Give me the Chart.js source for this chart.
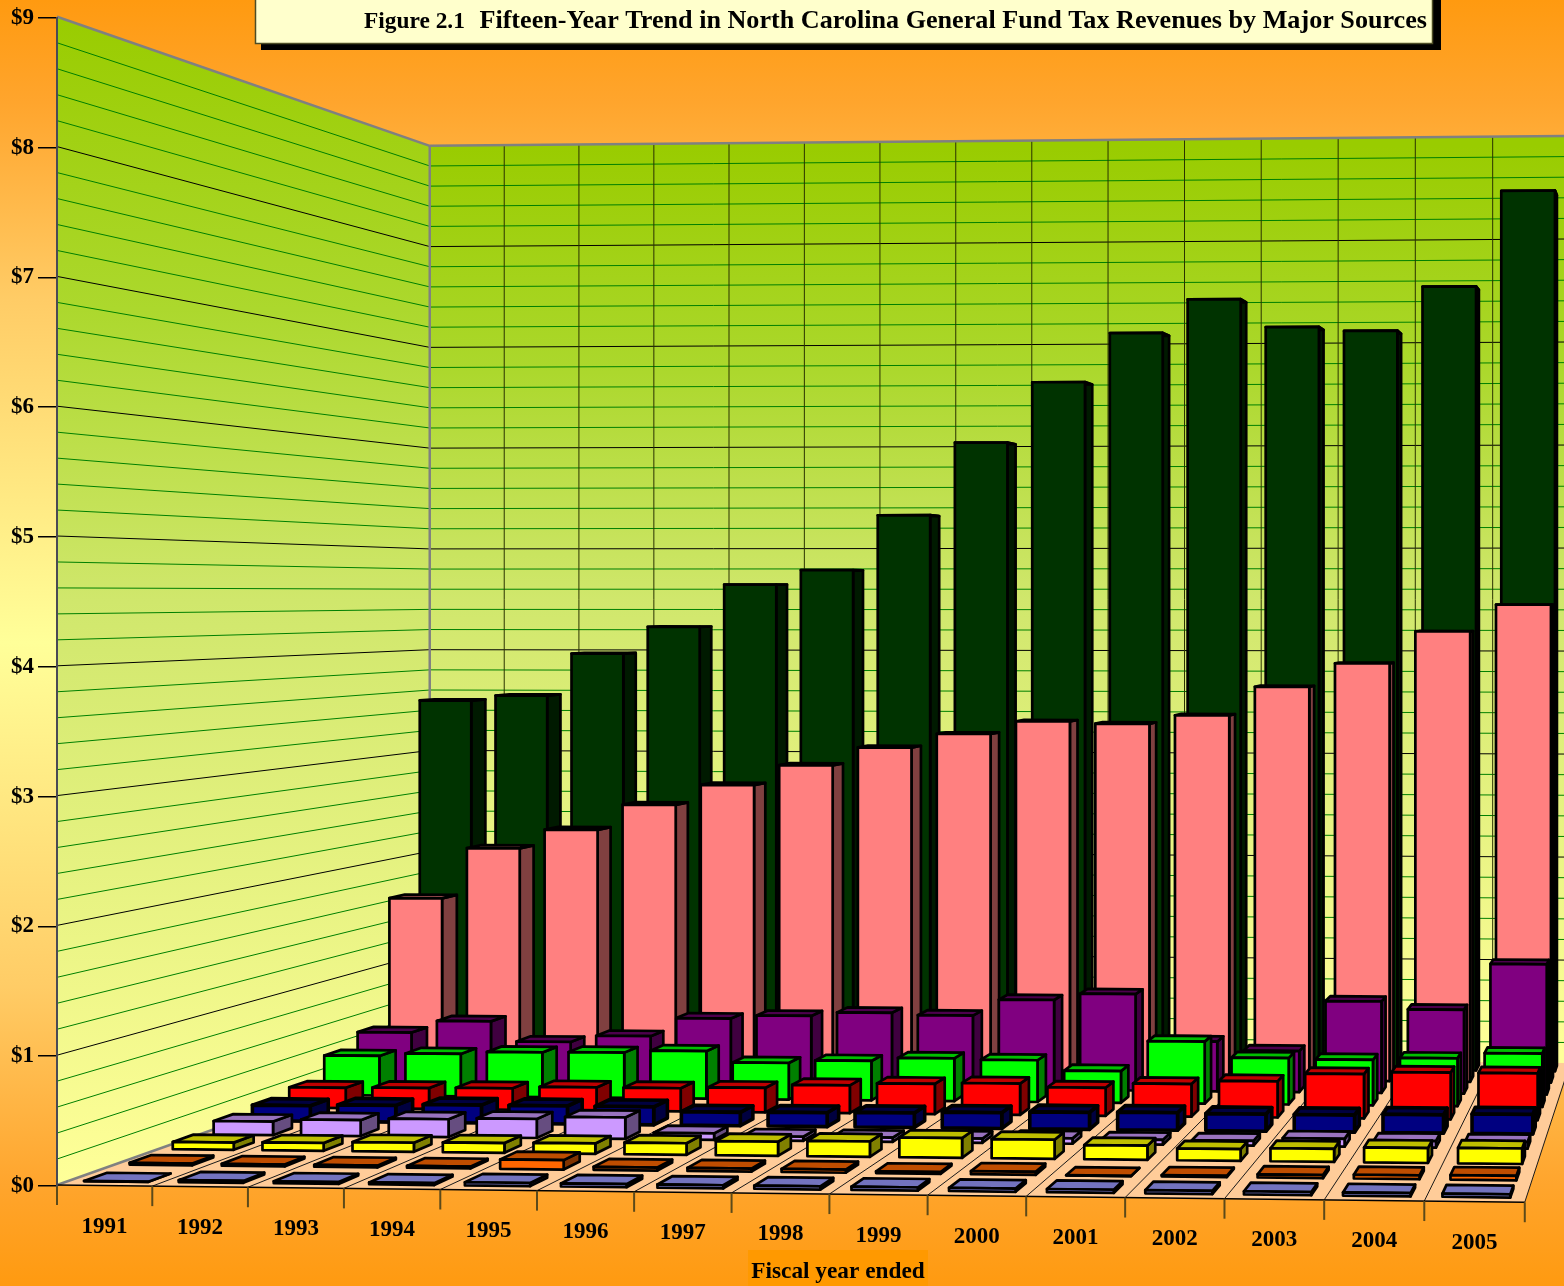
<!DOCTYPE html>
<html>
<head>
<meta charset="utf-8">
<title>Figure 2.1</title>
<script src="https://cdn.jsdelivr.net/npm/chart.js@4/dist/chart.umd.js"></script>
<style>
  html, body { margin: 0; padding: 0; background: #ff9900; }
  canvas { display: block; }
</style>
</head>
<body>
<canvas id="revenueChart" width="1564" height="1286"></canvas>
<script>
// Data, in billions of dollars. Front row first.
const years = ["1991", "1992", "1993", "1994", "1995", "1996", "1997", "1998", "1999", "2000", "2001", "2002", "2003", "2004", "2005"];

const periwinkleValues = [0.005, 0.02, 0.02, 0.02, 0.03, 0.03, 0.03, 0.03, 0.03, 0.03, 0.03, 0.03, 0.03, 0.03, 0.03];
const orangeValues = [0.02, 0.02, 0.02, 0.02, 0.08, 0.03, 0.03, 0.03, 0.02, 0.03, 0.005, 0.015, 0.03, 0.035, 0.04];
const yellowValues = [0.065, 0.07, 0.08, 0.085, 0.09, 0.10, 0.12, 0.13, 0.165, 0.16, 0.12, 0.10, 0.11, 0.125, 0.13];
const lavenderValues = [0.12, 0.14, 0.155, 0.165, 0.185, 0.06, 0.04, 0.04, 0.04, 0.05, 0.045, 0.045, 0.07, 0.06, 0.06];
const navyValues = [0.14, 0.15, 0.16, 0.16, 0.16, 0.12, 0.125, 0.13, 0.14, 0.15, 0.155, 0.15, 0.15, 0.16, 0.17];
const redValues = [0.185, 0.19, 0.195, 0.21, 0.21, 0.22, 0.25, 0.27, 0.28, 0.25, 0.29, 0.32, 0.39, 0.41, 0.41];
const greenValues = [0.365, 0.39, 0.41, 0.415, 0.435, 0.335, 0.36, 0.39, 0.38, 0.29, 0.56, 0.42, 0.41, 0.43, 0.48];
const purpleValues = [0.48, 0.59, 0.405, 0.465, 0.635, 0.665, 0.70, 0.68, 0.83, 0.89, 0.46, 0.38, 0.84, 0.77, 1.19];
const pinkValues = [1.66, 2.14, 2.32, 2.56, 2.75, 2.94, 3.11, 3.24, 3.36, 3.34, 3.42, 3.69, 3.91, 4.21, 4.46];
const darkGreenValues = [3.52, 3.57, 3.98, 4.24, 4.65, 4.79, 5.32, 6.02, 6.60, 7.07, 7.39, 7.12, 7.08, 7.50, 8.41];

const rows = [
  { label: "Periwinkle", data: periwinkleValues, color: [153, 153, 255], topShade: 0.75, edge: 2.7 },
  { label: "Orange", data: orangeValues, color: [255, 102, 0], topShade: 0.75, edge: 2.7 },
  { label: "Yellow", data: yellowValues, color: [255, 255, 0], topShade: 0.75, edge: 2.7 },
  { label: "Lavender", data: lavenderValues, color: [204, 153, 255], topShade: 0.75, edge: 2.7 },
  { label: "Navy", data: navyValues, color: [0, 0, 128], topShade: 0.5, edge: 3.6 },
  { label: "Red", data: redValues, color: [255, 0, 0], topShade: 0.75, edge: 2.7 },
  { label: "Green", data: greenValues, color: [0, 255, 0], topShade: 0.75, edge: 2.7 },
  { label: "Purple", data: purpleValues, color: [128, 0, 128], topShade: 0.6, edge: 2.7 },
  { label: "Pink", data: pinkValues, color: [255, 128, 128], topShade: 0.75, edge: 2.7 },
  { label: "Dark green", data: darkGreenValues, color: [0, 51, 0], topShade: 0.6, edge: 2.7 },
];

const titleFigure = "Figure 2.1";
const titleText = "Fifteen-Year Trend in North Carolina General Fund Tax Revenues by Major Sources";
const axisTitle = "Fiscal year ended";
const serif = '"Liberation Serif", "Times New Roman", serif';

// Perspective camera: u counts years along the front, v runs 0..1 front to back,
// h is a height in pixels as given by the y scale on the front plane.
const cam = { x0: 57, xu: 95, xv: 496.5, y0: 1185, yu: -1.1, yv: 171, du: -0.00187, dv: 0.288 };

function project(u, v, h) {
  const d = 1 + cam.du * u + cam.dv * v;
  return [(cam.x0 + cam.xu * u + cam.xv * v) / d, (cam.y0 + cam.yu * u + cam.yv * v - h) / d];
}

const rowDepth = 0.1;
const barDepth = 0.05;

function poly(ctx, pts) {
  ctx.beginPath();
  pts.forEach((p, i) => (i ? ctx.lineTo(p[0], p[1]) : ctx.moveTo(p[0], p[1])));
  ctx.closePath();
}

function line(ctx, a, b, color, width) {
  ctx.strokeStyle = color;
  ctx.lineWidth = width;
  ctx.beginPath();
  ctx.moveTo(a[0], a[1]);
  ctx.lineTo(b[0], b[1]);
  ctx.stroke();
}

function shade(c, k) {
  return "rgb(" + c.map((n) => Math.round(n * k)).join(",") + ")";
}

function heightOf(chart, value) {
  const y = chart.scales.y;
  return y.getPixelForValue(0) - y.getPixelForValue(value);
}

function wallGradient(ctx, top, bottom) {
  const g = ctx.createLinearGradient(0, top, 0, bottom);
  g.addColorStop(0, "#99cc00");
  g.addColorStop(0.25, "#acd82d");
  g.addColorStop(0.5, "#d0e76c");
  g.addColorStop(1, "#ffff99");
  return g;
}

const stagePlugin = {
  id: "stage",
  // page, walls and floor go under the library's axis
  beforeDraw(chart) {
    const ctx = chart.ctx;
    const full = heightOf(chart, 9);
    const maxU = years.length;

    const bg = ctx.createLinearGradient(0, 0, 0, chart.height);
    bg.addColorStop(0, "#ff9a10");
    bg.addColorStop(0.08, "#ffa52d");
    bg.addColorStop(0.233, "#ffcc66");
    bg.addColorStop(0.5, "#ffff99");
    bg.addColorStop(0.767, "#ffcc66");
    bg.addColorStop(0.92, "#ffa52d");
    bg.addColorStop(1, "#ff9a10");
    ctx.fillStyle = bg;
    ctx.fillRect(0, 0, chart.width, chart.height);

    // floor
    poly(ctx, [project(0, 0, 0), project(maxU, 0, 0), project(maxU, 1, 0), project(0, 1, 0)]);
    ctx.fillStyle = "#ffcc99";
    ctx.fill();

    // left wall
    poly(ctx, [project(0, 0, 0), project(0, 0, full), project(0, 1, full), project(0, 1, 0)]);
    ctx.fillStyle = wallGradient(ctx, project(0, 0, full)[1], project(0, 0, 0)[1]);
    ctx.fill();

    // back wall
    poly(ctx, [project(0, 1, 0), project(0, 1, full), project(maxU, 1, full), project(maxU, 1, 0)]);
    ctx.fillStyle = wallGradient(ctx, project(0, 1, full)[1], project(0, 1, 0)[1]);
    ctx.fill();

    // horizontal grid, five divisions per dollar
    for (let i = 1; i < 45; i++) {
      const h = heightOf(chart, i / 5);
      const color = i % 5 === 0 ? "#000000" : "#008000";
      line(ctx, project(0, 0, h), project(0, 1, h), color, 1);
      line(ctx, project(0, 1, h), project(maxU, 1, h), color, 1);
    }
    // year lines on the back wall and the floor
    for (let u = 1; u < maxU; u++) {
      line(ctx, project(u, 1, 0), project(u, 1, full), "#2a3300", 1);
    }
    for (let u = 1; u <= maxU; u++) {
      line(ctx, project(u, 0, 0), project(u, 1, 0), "#1a1a1a", 1);
    }

    // wall edges
    line(ctx, project(0, 0, full), project(0, 1, full), "#808080", 2.5);
    line(ctx, project(0, 1, full), project(maxU, 1, full), "#808080", 2.5);
    line(ctx, project(0, 1, 0), project(0, 1, full), "#808080", 2.5);
    line(ctx, project(0, 0, 0), project(0, 1, 0), "#808080", 2.5);

    // front edge with the year ticks
    line(ctx, project(0, 0, 0), project(maxU, 0, 0), "#000000", 1.5);
    for (let u = 0; u <= maxU; u++) {
      const p = project(u, 0, 0);
      line(ctx, p, [p[0], p[1] + 20], "#5c4a1a", 2);
    }
  },

  // draw each bar as a box instead of the flat rectangle
  beforeDatasetDraw(chart, args) {
    const ctx = chart.ctx;
    const xs = chart.scales.x;
    const slot = xs.width / years.length;
    const row = args.index;
    const color = rows[row].color;
    const v0 = row * rowDepth + (rowDepth - barDepth) / 2;
    const v1 = v0 + barDepth;

    ctx.save();
    ctx.lineJoin = "round";
    ctx.strokeStyle = "#000000";
    ctx.lineWidth = rows[row].edge;
    args.meta.data.forEach((bar) => {
      const props = bar.getProps(["x", "y", "base", "width"], true);
      const u0 = (props.x - props.width / 2 - xs.left) / slot;
      const u1 = (props.x + props.width / 2 - xs.left) / slot;
      const h = props.base - props.y;

      poly(ctx, [project(u1, v0, 0), project(u1, v1, 0), project(u1, v1, h), project(u1, v0, h)]);
      ctx.fillStyle = shade(color, 0.5);
      ctx.fill();
      ctx.stroke();

      poly(ctx, [project(u0, v0, h), project(u1, v0, h), project(u1, v1, h), project(u0, v1, h)]);
      ctx.fillStyle = shade(color, rows[row].topShade);
      ctx.fill();
      ctx.stroke();

      poly(ctx, [project(u0, v0, 0), project(u1, v0, 0), project(u1, v0, h), project(u0, v0, h)]);
      ctx.fillStyle = shade(color, 1);
      ctx.fill();
      ctx.stroke();
    });
    ctx.restore();
    return false;
  },

  afterDraw(chart) {
    const ctx = chart.ctx;
    const xs = chart.scales.x;
    const slot = xs.width / years.length;

    ctx.save();
    ctx.textBaseline = "alphabetic";

    // year labels follow the tilted front edge
    ctx.font = "bold 23px " + serif;
    ctx.textAlign = "center";
    ctx.fillStyle = "#000000";
    years.forEach((year, i) => {
      const u = (xs.getPixelForTick(i) - xs.left) / slot;
      const p = project(u, 0, 0);
      ctx.fillText(year, p[0], p[1] + 47);
    });

    // axis title on its own patch
    ctx.fillStyle = "#ff9900";
    ctx.fillRect(748, 1250, 180, 36);
    ctx.fillStyle = "#000000";
    ctx.font = "bold 23.3px " + serif;
    ctx.fillText(axisTitle, 838, 1278);

    // title box
    ctx.fillStyle = "#000000";
    ctx.fillRect(261, 0, 1180, 50);
    ctx.fillStyle = "#ffffcc";
    ctx.fillRect(255, -2, 1178, 46);
    ctx.strokeStyle = "#4d4d26";
    ctx.lineWidth = 1.5;
    ctx.strokeRect(255.5, -2, 1177, 45.5);

    ctx.fillStyle = "#000000";
    ctx.textAlign = "left";
    ctx.font = "bold 23.4px " + serif;
    ctx.fillText(titleFigure, 364, 28);
    ctx.textAlign = "right";
    ctx.font = "bold 26.15px " + serif;
    ctx.fillText(titleText, 1427, 28);
    ctx.restore();
  },
};

const revenueChart = new Chart(document.getElementById("revenueChart"), {
  type: "bar",
  data: {
    labels: years,
    datasets: rows.map((r) => ({ label: r.label, data: r.data })),
  },
  options: {
    responsive: false,
    animation: false,
    grouped: false,
    barPercentage: 0.68,
    categoryPercentage: 1,
    layout: { padding: { top: 17, right: 39, bottom: 100, left: 0 } },
    plugins: { legend: { display: false }, title: { display: false }, tooltip: { enabled: false } },
    scales: {
      x: {
        grid: { display: false },
        border: { display: false },
        ticks: { display: false },
        afterFit(scale) {
          scale.height = 0;
        },
      },
      y: {
        min: 0,
        max: 9,
        afterFit(scale) {
          scale.width = 57;
        },
        border: { color: "#4a4a55", width: 2 },
        grid: { drawOnChartArea: false, color: "#000000", tickLength: 19, lineWidth: 1.5 },
        ticks: {
          stepSize: 1,
          color: "#000000",
          padding: 4,
          font: { family: serif, size: 23, weight: "bold" },
          callback: (v) => "$" + v,
        },
      },
    },
  },
  plugins: [stagePlugin],
});
</script>
</body>
</html>
